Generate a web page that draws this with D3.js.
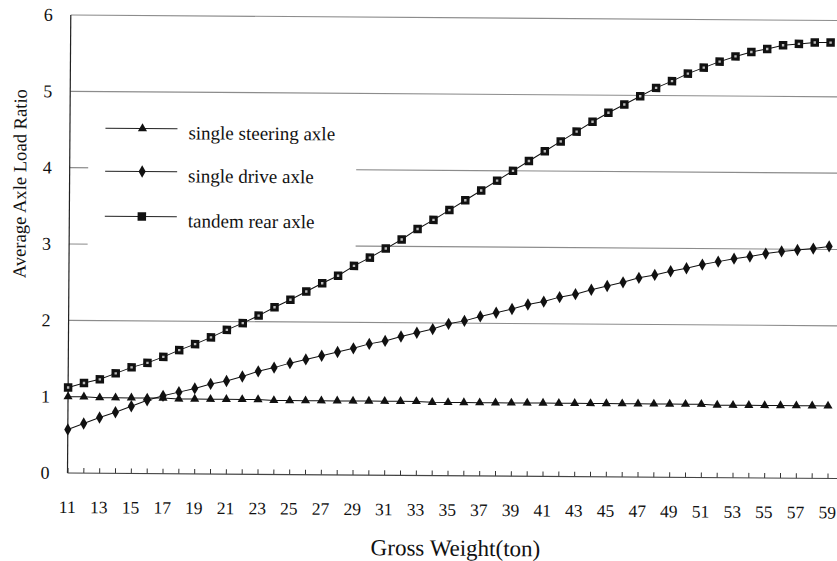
<!DOCTYPE html>
<html>
<head>
<meta charset="utf-8">
<script src="https://cdn.jsdelivr.net/npm/d3@7"></script>
<style>
  html, body { margin: 0; padding: 0; background: #fff; }
  svg { display: block; }
</style>
</head>
<body>
<div id="chart"></div>
<script>
// Gross weight (ton) categories
const weights = [11,12,13,14,15,16,17,18,19,20,21,22,23,24,25,26,27,28,29,30,
                 31,32,33,34,35,36,37,38,39,40,41,42,43,44,45,46,47,48,49,50,
                 51,52,53,54,55,56,57,58,59];

// Average axle load ratio per axle type
const steering = [1.00,1.00,0.99,0.99,0.99,0.99,0.99,0.98,0.98,0.98,
                  0.98,0.98,0.98,0.97,0.97,0.97,0.97,0.97,0.97,0.97,
                  0.97,0.97,0.97,0.96,0.96,0.96,0.96,0.96,0.96,0.96,
                  0.96,0.96,0.96,0.96,0.96,0.96,0.96,0.96,0.96,0.96,
                  0.96,0.95,0.95,0.95,0.95,0.95,0.95,0.95,0.95];
const drive    = [0.57,0.65,0.73,0.80,0.88,0.96,1.02,1.07,1.12,1.18,
                  1.22,1.28,1.35,1.40,1.46,1.51,1.56,1.61,1.66,1.72,
                  1.76,1.82,1.87,1.92,1.99,2.03,2.09,2.14,2.19,2.25,
                  2.29,2.35,2.39,2.45,2.50,2.55,2.61,2.65,2.70,2.74,
                  2.79,2.83,2.87,2.90,2.94,2.97,2.99,3.01,3.04];
const tandem   = [1.12,1.18,1.23,1.31,1.39,1.45,1.53,1.62,1.70,1.79,
                  1.89,1.98,2.08,2.19,2.29,2.40,2.51,2.61,2.74,2.85,
                  2.97,3.09,3.23,3.35,3.48,3.61,3.74,3.87,4.00,4.13,
                  4.26,4.39,4.52,4.65,4.77,4.88,4.99,5.10,5.19,5.29,
                  5.37,5.45,5.52,5.58,5.62,5.67,5.69,5.71,5.71];

const xTickLabels = [11,13,15,17,19,21,23,25,27,29,31,33,35,37,39,41,43,45,47,49,51,53,55,57,59];
const yTicks = [0,1,2,3,4,5,6];
const gridValues = [2,3,4,5,6];

const seriesNames = ["single steering axle", "single drive axle", "tandem rear axle"];
const seriesValues = [steering, drive, tandem];
const seriesSymbols = [d3.symbolTriangle, d3.symbolDiamond, d3.symbolSquare];

const W = 837, H = 561;
const x0 = 67.5, xEnd = 837;
const SERIF = "'Liberation Serif', 'Times New Roman', serif";

const x = d3.scaleLinear().domain([11, 59]).range([x0, 827.5]);
const y = d3.scaleLinear().domain([0, 6]).range([473, 15]);

const svg = d3.select("#chart").append("svg")
  .attr("width", W).attr("height", H);

// the whole sheet sits at a slight clockwise angle
const g = svg.append("g")
  .attr("font-family", SERIF)
  .attr("fill", "#111")
  .attr("transform", `rotate(0.41, ${x0}, ${y(0)})`);

// horizontal gridlines
g.append("g").selectAll("line").data(gridValues).join("line")
  .attr("x1", x0).attr("x2", xEnd + 10)
  .attr("y1", d => y(d)).attr("y2", d => y(d))
  .attr("stroke", "#8c8c8c").attr("stroke-width", 1.1);

// legend panel masks the gridlines behind it
g.append("rect")
  .attr("x", 86).attr("y", 102).attr("width", 268).attr("height", 150)
  .attr("fill", "#fff");

// y axis line
g.append("line")
  .attr("x1", x0).attr("x2", x0)
  .attr("y1", y(6)).attr("y2", y(0))
  .attr("stroke", "#222").attr("stroke-width", 1.2);

// x axis with inward ticks at every weight
const xAxis = d3.axisBottom(x)
  .tickValues(weights)
  .tickSize(-5)
  .tickFormat("");
const xa = g.append("g").attr("transform", `translate(0,${y(0)})`).call(xAxis);
xa.select(".domain").remove();
xa.selectAll(".tick line").attr("stroke", "#333").attr("stroke-width", 1);
g.append("line")
  .attr("x1", x0).attr("x2", xEnd + 10)
  .attr("y1", y(0)).attr("y2", y(0))
  .attr("stroke", "#444").attr("stroke-width", 1.1);

// x tick labels
g.append("g").selectAll("text").data(xTickLabels).join("text")
  .attr("x", d => x(d)).attr("y", 513)
  .attr("text-anchor", "middle")
  .attr("font-size", 17.5)
  .text(d => d);

// y tick labels
g.append("g").selectAll("text").data(yTicks).join("text")
  .attr("x", 45).attr("y", d => y(d) + 6)
  .attr("text-anchor", "middle")
  .attr("font-size", 18)
  .text(d => d);

// axis titles
g.append("text")
  .attr("x", 456).attr("y", 553)
  .attr("text-anchor", "middle")
  .attr("font-size", 23)
  .text("Gross Weight(ton)");

g.append("text")
  .attr("transform", `translate(24,184) rotate(-90)`)
  .attr("text-anchor", "middle")
  .attr("font-size", 18.6)
  .text("Average Axle Load Ratio");

// series lines and markers
const line = d3.line()
  .x((d, i) => x(weights[i]))
  .y(d => y(d));

const markerSize = [36, 44, 72];

seriesValues.forEach((vals, k) => {
  g.append("path")
    .datum(vals)
    .attr("d", line)
    .attr("fill", "none")
    .attr("stroke", "#111")
    .attr("stroke-width", 1);
  const sym = d3.symbol().type(seriesSymbols[k]).size(markerSize[k]);
  g.append("g").selectAll("path").data(vals).join("path")
    .attr("transform", (d, i) => `translate(${x(weights[i])},${y(d)})`)
    .attr("d", sym)
    .attr("fill", "#111");
  if (k === 2) {
    g.append("g").selectAll("rect").data(vals).join("rect")
      .attr("x", (d, i) => x(weights[i]) - 1.2)
      .attr("y", d => y(d) - 1.2)
      .attr("width", 2.4).attr("height", 2.4)
      .attr("fill", "#bbb");
  }
});

// legend
const legendY = [128, 171, 216];
const leg = g.append("g");
seriesNames.forEach((name, k) => {
  leg.append("line")
    .attr("x1", 103).attr("x2", 175)
    .attr("y1", legendY[k]).attr("y2", legendY[k])
    .attr("stroke", "#222").attr("stroke-width", 1);
  leg.append("path")
    .attr("transform", `translate(140,${legendY[k]})`)
    .attr("d", d3.symbol().type(seriesSymbols[k]).size(markerSize[k]))
    .attr("fill", "#111");
  leg.append("text")
    .attr("x", 186).attr("y", legendY[k] + 10.5)
    .attr("font-size", 19)
    .text(name);
});
</script>
</body>
</html>
